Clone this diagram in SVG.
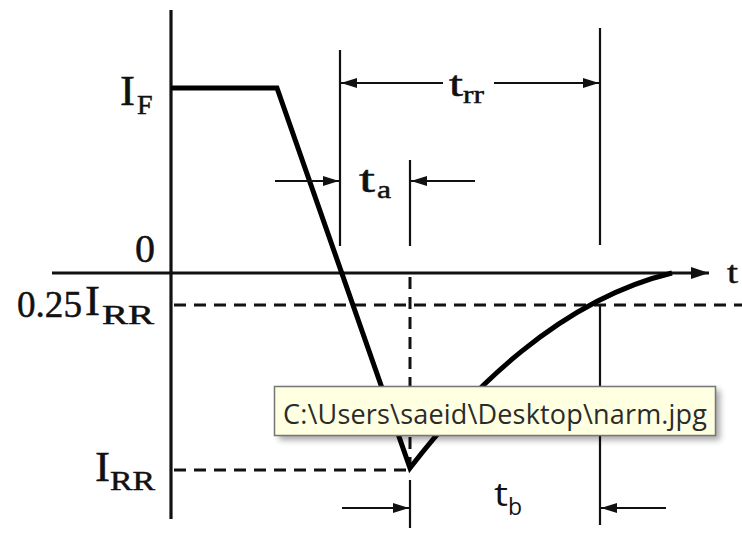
<svg xmlns="http://www.w3.org/2000/svg" width="742" height="546" viewBox="0 0 742 546">
<style>
.ax{stroke:#111;stroke-width:3.2;fill:none}
.wave{stroke:#000;stroke-width:5;fill:none;stroke-linejoin:miter}
.dim{stroke:#111;stroke-width:2.2;fill:none}
.dash{stroke:#111;stroke-width:3;fill:none;stroke-dasharray:12 8}
.lbl{font-family:"Liberation Serif",serif;fill:#111;stroke:#111;stroke-width:0.5}
.tip{font-family:"Open Sans","DejaVu Sans",sans-serif;fill:#2b2b2b}
</style>
<defs>
<marker id="ah" viewBox="0 0 16 10" refX="16" refY="5" markerWidth="16" markerHeight="10" markerUnits="userSpaceOnUse" orient="auto">
<path d="M0,0 L16,5 L0,10 z" fill="#111"/>
</marker>
<marker id="axh" viewBox="0 0 18 12" refX="18" refY="6" markerWidth="18" markerHeight="12" markerUnits="userSpaceOnUse" orient="auto">
<path d="M0,0 L18,6 L0,12 z" fill="#111"/>
</marker>
<filter id="sh" x="-10%" y="-30%" width="120%" height="160%">
<feGaussianBlur stdDeviation="3"/>
</filter>
</defs>
<rect width="742" height="546" fill="#fff"/>
<g id="axes">
<line class="ax" x1="171" y1="10" x2="171" y2="519"/>
<line class="ax" x1="52" y1="273" x2="709" y2="273" marker-end="url(#axh)"/>
</g>
<g id="guides">
<line class="dash" x1="174" y1="305" x2="742" y2="305"/>
<line class="dash" x1="174" y1="470" x2="410" y2="470"/>
<line class="dash" x1="410" y1="275" x2="410" y2="470" style="stroke-dashoffset:-2"/>
<line class="dim" x1="340" y1="50" x2="340" y2="246"/>
<line class="dim" x1="410" y1="160" x2="410" y2="246"/>
<line class="dim" x1="600" y1="28" x2="600" y2="245"/>
<line class="dim" x1="600" y1="305" x2="600" y2="525"/>
<line class="dim" x1="410" y1="480" x2="410" y2="528"/>
</g>
<g id="waveform">
<path class="wave" d="M171,88 L277,88 L410,468 C470,390 560,300 672,273"/>
</g>
<g id="connectors">
<line class="dim" x1="275" y1="181" x2="339" y2="181" marker-end="url(#ah)"/>
<line class="dim" x1="475" y1="181" x2="411" y2="181" marker-end="url(#ah)"/>
<line class="dim" x1="443" y1="83" x2="341" y2="83" marker-end="url(#ah)"/>
<line class="dim" x1="494" y1="83" x2="599" y2="83" marker-end="url(#ah)"/>
<line class="dim" x1="342" y1="508" x2="409" y2="508" marker-end="url(#ah)"/>
<line class="dim" x1="666" y1="508" x2="601" y2="508" marker-end="url(#ah)"/>
</g>
<g id="labels">
<text class="lbl" x="120" y="105" font-size="42" textLength="15" lengthAdjust="spacingAndGlyphs">I</text>
<text class="lbl" x="137" y="114" font-size="28">F</text>
<text class="lbl" x="135" y="262" font-size="40">0</text>
<text class="lbl" x="17" y="317" font-size="38" textLength="65" lengthAdjust="spacingAndGlyphs">0.25</text>
<text class="lbl" x="85" y="315" font-size="42" textLength="15" lengthAdjust="spacingAndGlyphs">I</text>
<text class="lbl" x="102" y="324" font-size="28" textLength="52" lengthAdjust="spacingAndGlyphs">RR</text>
<text class="lbl" x="95" y="481" font-size="42" textLength="15" lengthAdjust="spacingAndGlyphs">I</text>
<text class="lbl" x="110" y="490" font-size="28" textLength="45" lengthAdjust="spacingAndGlyphs">RR</text>
<text class="lbl" x="359" y="192" font-size="38" textLength="16" lengthAdjust="spacingAndGlyphs">t</text>
<text class="lbl" x="377" y="198" font-size="26" textLength="14" lengthAdjust="spacingAndGlyphs">a</text>
<text class="lbl" x="449" y="96" font-size="36" textLength="14" lengthAdjust="spacingAndGlyphs">t</text>
<text class="lbl" x="463" y="103" font-size="26" textLength="21" lengthAdjust="spacingAndGlyphs">rr</text>
<text class="lbl" x="727" y="283" font-size="32" textLength="11" lengthAdjust="spacingAndGlyphs">t</text>
<text class="tip" x="494" y="506" font-size="32" textLength="14" lengthAdjust="spacingAndGlyphs" style="fill:#111">t</text>
<text class="tip" x="508" y="515" font-size="23" style="fill:#111">b</text>
</g>
<g id="tooltip">
<rect x="279" y="390" width="441" height="50" fill="#000" opacity="0.35" filter="url(#sh)"/>
<rect x="274.5" y="386.5" width="441" height="49" fill="#ffffe1" stroke="#767676" stroke-width="1.5"/>
<text class="tip" x="283" y="424" font-size="27" textLength="424">C:\Users\saeid\Desktop\narm.jpg</text>
</g>
</svg>
